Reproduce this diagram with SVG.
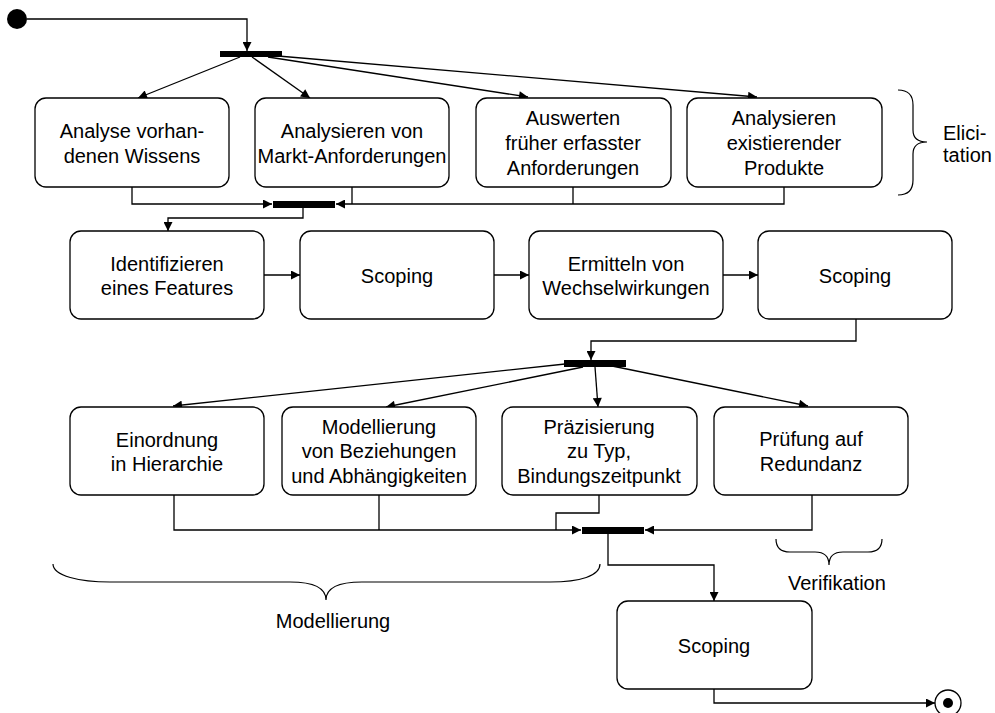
<svg xmlns="http://www.w3.org/2000/svg" width="995" height="713" viewBox="0 0 995 713">
  <style>
    .box { fill: #fff; stroke: #000; stroke-width: 1.3; }
    .bar { fill: #000; }
    .lbl { font-family: "Liberation Sans", Arial, sans-serif; font-size: 20px; fill: #000; text-anchor: middle; }
    .note { font-family: "Liberation Sans", Arial, sans-serif; font-size: 20px; fill: #000; }
    .edge { fill: none; stroke: #000; stroke-width: 1.3; }
    .arr { marker-end: url(#ah); }
    .brace { fill: none; stroke: #000; stroke-width: 1.2; }
  </style>
  <defs>
    <marker id="ah" viewBox="0 0 10 10" refX="10" refY="5" markerWidth="10" markerHeight="9" markerUnits="userSpaceOnUse" orient="auto">
      <path d="M0,0 L10,5 L0,10 z" fill="#000"/>
    </marker>
  </defs>
  <rect width="995" height="713" fill="#fff"/>

  <!-- start / end states and synchronisation bars -->
  <g id="start"><circle cx="17" cy="19" r="10" fill="#000"/></g>
  <g id="fork1"><rect class="bar" x="220" y="51" width="62" height="6"/></g>
  <g id="join1"><rect class="bar" x="273" y="201" width="62" height="7"/></g>
  <g id="fork2"><rect class="bar" x="564" y="360" width="62" height="7"/></g>
  <g id="join2"><rect class="bar" x="582" y="527" width="62" height="7"/></g>
  <g id="end">
    <circle cx="948" cy="703" r="13" fill="#fff" stroke="#000" stroke-width="1.3"/>
    <circle cx="948" cy="703" r="5" fill="#000"/>
  </g>

  <!-- connectors -->
  <g id="connectors">
    <path class="edge arr" d="M27,19 H247 V51"/>
    <path class="edge arr" d="M240,57 L138,98"/>
    <path class="edge arr" d="M252,57 L310,98"/>
    <path class="edge arr" d="M268,57 L528,97"/>
    <path class="edge arr" d="M278,56 L757,97"/>

    <path class="edge arr" d="M132,187 V204 H272"/>
    <path class="edge arr" d="M784,187 V204 H336"/>
    <path class="edge" d="M352,187 V204"/>
    <path class="edge" d="M573,187 V204"/>

    <path class="edge arr" d="M303,208 V218 H168 V231"/>
    <path class="edge arr" d="M264,275 H300"/>
    <path class="edge arr" d="M494,275 H529"/>
    <path class="edge arr" d="M723,275 H758"/>

    <path class="edge arr" d="M856,319 V341 H591 V360"/>
    <path class="edge arr" d="M565,364 L173,406"/>
    <path class="edge arr" d="M583,367 L386,407"/>
    <path class="edge arr" d="M595,367 L598,407"/>
    <path class="edge arr" d="M612,366 L808,406"/>

    <path class="edge arr" d="M174,495 V530 H581"/>
    <path class="edge" d="M379,495 V530"/>
    <path class="edge" d="M599,495 V513 H556 V530"/>
    <path class="edge arr" d="M812,495 V530 H645"/>

    <path class="edge arr" d="M608,534 V565 H714 V601"/>
    <path class="edge arr" d="M714,689 V703 H935"/>
  </g>

  <!-- elicitation activities -->
  <g id="n-wissen">
    <rect class="box" x="35" y="98" width="194" height="89" rx="11"/>
    <text class="lbl" x="132" y="138">Analyse vorhan-</text>
    <text class="lbl" x="132" y="163">denen Wissens</text>
  </g>
  <g id="n-markt">
    <rect class="box" x="255" y="98" width="194" height="89" rx="11"/>
    <text class="lbl" x="352" y="138">Analysieren von</text>
    <text class="lbl" x="352" y="163">Markt-Anforderungen</text>
  </g>
  <g id="n-frueher">
    <rect class="box" x="476" y="98" width="195" height="89" rx="11"/>
    <text class="lbl" x="573" y="125">Auswerten</text>
    <text class="lbl" x="573" y="150">früher erfasster</text>
    <text class="lbl" x="573" y="175">Anforderungen</text>
  </g>
  <g id="n-produkte">
    <rect class="box" x="687" y="98" width="195" height="89" rx="11"/>
    <text class="lbl" x="784" y="125">Analysieren</text>
    <text class="lbl" x="784" y="150">existierender</text>
    <text class="lbl" x="784" y="175">Produkte</text>
  </g>

  <!-- feature identification row -->
  <g id="n-identify">
    <rect class="box" x="70" y="231" width="194" height="88" rx="11"/>
    <text class="lbl" x="167" y="271">Identifizieren</text>
    <text class="lbl" x="167" y="295">eines Features</text>
  </g>
  <g id="n-scoping1">
    <rect class="box" x="300" y="231" width="194" height="88" rx="11"/>
    <text class="lbl" x="397" y="283">Scoping</text>
  </g>
  <g id="n-wechsel">
    <rect class="box" x="529" y="231" width="194" height="88" rx="11"/>
    <text class="lbl" x="626" y="271">Ermitteln von</text>
    <text class="lbl" x="626" y="295">Wechselwirkungen</text>
  </g>
  <g id="n-scoping2">
    <rect class="box" x="758" y="231" width="194" height="88" rx="11"/>
    <text class="lbl" x="855" y="283">Scoping</text>
  </g>

  <!-- modelling row -->
  <g id="n-hierarchie">
    <rect class="box" x="70" y="407" width="194" height="88" rx="11"/>
    <text class="lbl" x="167" y="447">Einordnung</text>
    <text class="lbl" x="167" y="471">in Hierarchie</text>
  </g>
  <g id="n-beziehungen">
    <rect class="box" x="282" y="407" width="194" height="88" rx="11"/>
    <text class="lbl" x="379" y="434">Modellierung</text>
    <text class="lbl" x="379" y="458">von Beziehungen</text>
    <text class="lbl" x="379" y="483">und Abhängigkeiten</text>
  </g>
  <g id="n-praezisierung">
    <rect class="box" x="502" y="407" width="195" height="88" rx="11"/>
    <text class="lbl" x="599" y="434">Präzisierung</text>
    <text class="lbl" x="599" y="458">zu Typ,</text>
    <text class="lbl" x="599" y="483">Bindungszeitpunkt</text>
  </g>
  <g id="n-redundanz">
    <rect class="box" x="714" y="407" width="194" height="88" rx="11"/>
    <text class="lbl" x="811" y="446">Prüfung auf</text>
    <text class="lbl" x="811" y="471">Redundanz</text>
  </g>

  <g id="n-scoping3">
    <rect class="box" x="617" y="601" width="195" height="88" rx="11"/>
    <text class="lbl" x="714" y="653">Scoping</text>
  </g>

  <!-- phase braces -->
  <g id="b-elicitation">
    <path class="brace" d="M898,90 Q913,90 913,105 V130 Q913,142 927,142 Q913,142 913,154 V180 Q913,195 898,195"/>
    <text class="note" x="943" y="140">Elici-</text>
    <text class="note" x="943" y="162">tation</text>
  </g>
  <g id="b-verifikation">
    <path class="brace" d="M776,539 Q776,552 790,552 H815 Q829,552 829,565 Q829,552 843,552 H868 Q882,552 882,539"/>
    <text class="note" x="788" y="590">Verifikation</text>
  </g>
  <g id="b-modellierung">
    <path class="brace" d="M53,564 C53,576 80,582 110,582 H290 C315,582 326,588 326,600 C326,588 337,582 362,582 H550 C580,582 600,576 600,564"/>
    <text class="lbl" x="333" y="628">Modellierung</text>
  </g>
</svg>
